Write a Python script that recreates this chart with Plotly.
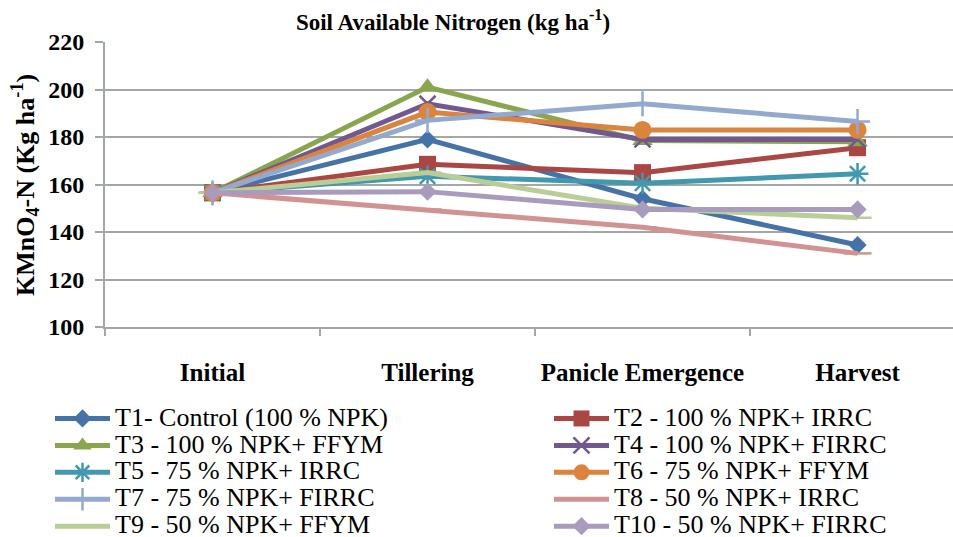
import plotly.graph_objects as go

stages = ["Initial", "Tillering", "Panicle Emergence", "Harvest"]
names = [
    "T1- Control (100 % NPK)",
    "T2 - 100 % NPK+ IRRC",
    "T3 - 100 % NPK+ FFYM",
    "T4 - 100 % NPK+ FIRRC",
    "T5 - 75 % NPK+ IRRC",
    "T6 - 75 % NPK+ FFYM",
    "T7 - 75 % NPK+ FIRRC",
    "T8 - 50 % NPK+ IRRC",
    "T9 - 50 % NPK+ FFYM",
    "T10 - 50 % NPK+ FIRRC",
]
y_title = "KMnO<sub>4</sub>-N (Kg ha<sup>-1</sup>)"
chart_title = "Soil Available Nitrogen (kg ha<sup>-1</sup>)"

t1 = [156.5, 179.0, 154.0, 134.5]
t2 = [156.5, 168.5, 165.0, 175.5]
t3 = [156.5, 201.0, 178.5, 178.0]
t4 = [156.5, 194.0, 179.0, 179.0]
t5 = [156.5, 163.5, 160.5, 164.5]
t6 = [156.5, 190.5, 183.0, 183.0]
t7 = [156.5, 187.0, 194.0, 186.5]
t8 = [156.5, 149.5, 142.0, 131.0]
t9 = [156.5, 165.0, 150.0, 146.0]
t10 = [156.5, 157.0, 149.5, 149.5]
series = [t1, t2, t3, t4, t5, t6, t7, t8, t9, t10]

colors = ["#4572A7", "#AA4643", "#89A54E", "#71588F", "#4198AF",
          "#DB843D", "#93A9CF", "#D19392", "#B9CD96", "#A99BBD"]
symbols = ["diamond", "square", "triangle-up", "x-thin-open", "asterisk-open",
           "circle", "cross-thin-open", "line-ew-open", "line-ew-open", "diamond"]
sizes = [14, 17, 18, 16, 18, 18, 18, 20, 20, 14]

FONT = "Liberation Serif, Times New Roman, serif"

fig = go.Figure()
for i, (name, vals, col, sym, sz) in enumerate(zip(names, series, colors, symbols, sizes)):
    fig.add_trace(go.Scatter(
        x=stages, y=vals, mode="lines+markers",
        name='<span style="font-size:26px">' + name + '</span>',
        legend="legend" if i % 2 == 0 else "legend2",
        line=dict(color=col, width=5),
        marker=dict(symbol=sym, size=sz, color=col,
                    line=dict(color=col, width=2.5 if "open" in sym else 0)),
    ))

leg_common = dict(orientation="v", xref="container", yref="container",
                  xanchor="left", yanchor="top", itemwidth=55,
                  font=dict(family=FONT, size=18.4, color="black"),
                  bgcolor="rgba(0,0,0,0)", traceorder="normal")

W, H = 953, 537
ML, MR, MT, MB = 105, 0, 42, 210
PW, PH = W - ML - MR, H - MT - MB

fig.update_layout(
    width=W, height=H,
    margin=dict(l=ML, r=MR, t=MT, b=MB, autoexpand=False),
    paper_bgcolor="white", plot_bgcolor="white",
    font=dict(family=FONT, color="black"),
    title=dict(text="<b>" + chart_title + "</b>",
               font=dict(family=FONT, size=23, color="black"),
               xref="container", x=453 / W, xanchor="center",
               yref="container", y=1 - 22 / H, yanchor="middle"),
    showlegend=True,
    legend=dict(x=50 / W, y=1 - 400 / H, **leg_common),
    legend2=dict(x=549 / W, y=1 - 400 / H, **leg_common),
    annotations=[dict(
        text="<b>" + y_title + "</b>", textangle=-90,
        xref="paper", yref="paper",
        x=(25 - ML) / PW, y=(H - MB - 185) / PH,
        xanchor="center", yanchor="middle", showarrow=False,
        font=dict(family=FONT, size=26, color="black"),
    )],
)
fig.update_xaxes(
    type="category", range=[-0.5, 3.444],
    showline=True, linecolor="#A6A6A6", linewidth=2,
    showgrid=False, ticks="outside", tickson="boundaries",
    ticklen=7, tickcolor="#A6A6A6", tickwidth=2,
    tickfont=dict(family=FONT, size=25, color="black"),
    ticklabelstandoff=22, tickangle=0,
    tickprefix="<b>", ticksuffix="</b>",
)
fig.update_yaxes(
    range=[100, 220], dtick=20, tick0=100,
    showline=True, linecolor="#A6A6A6", linewidth=2,
    showgrid=True, gridcolor="#A6A6A6", gridwidth=2,
    ticks="outside", ticklen=8, tickcolor="#A6A6A6", tickwidth=2,
    tickfont=dict(family=FONT, size=24, color="black"),
    tickprefix="<b>", ticksuffix="</b>",
    ticklabelstandoff=6,
    zeroline=False,
)

fig.write_html("out.html")
